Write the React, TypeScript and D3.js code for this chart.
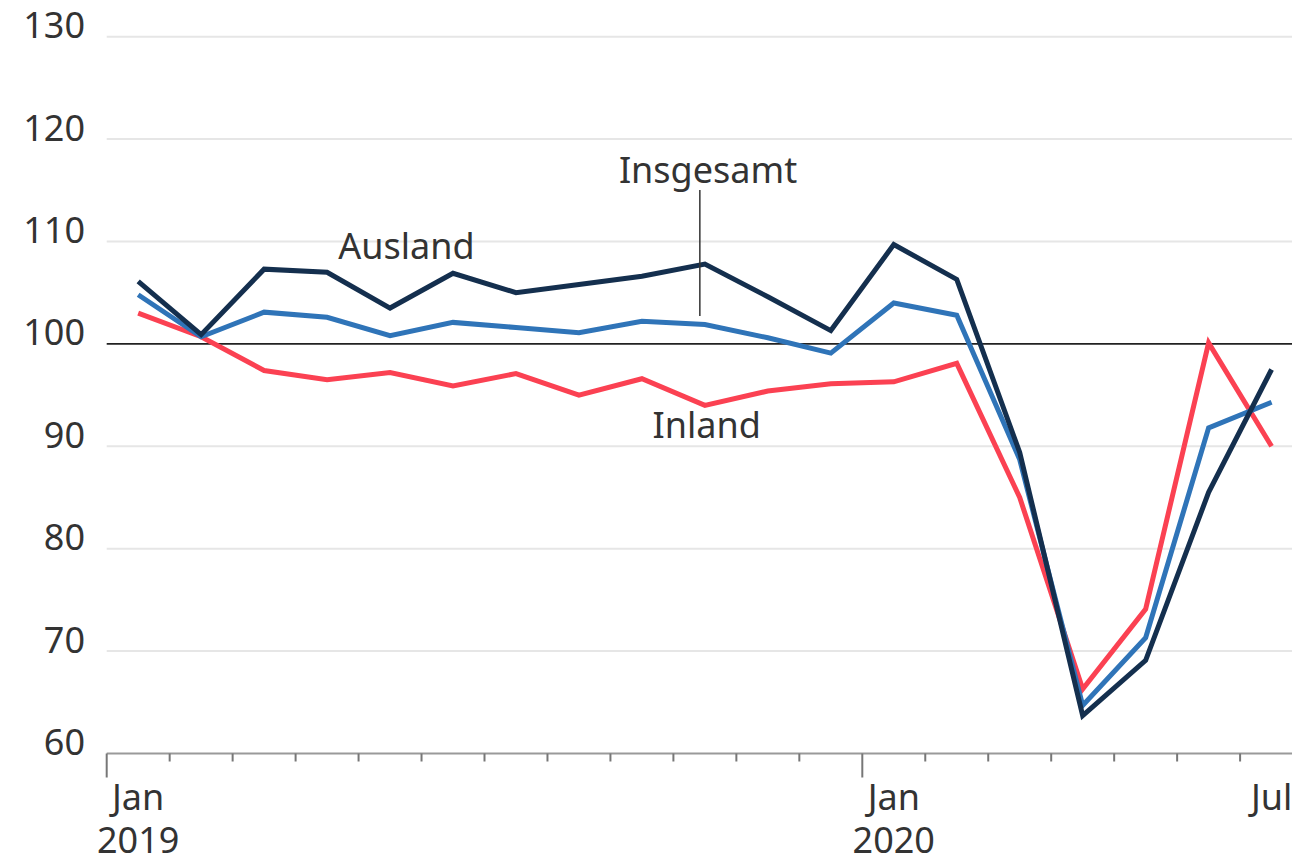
import React from "react";
import * as d3 from "d3";

const months = ["Jan 2019","Feb","Mär","Apr","Mai","Jun","Jul","Aug","Sep","Okt","Nov","Dez","Jan 2020","Feb","Mär","Apr","Mai","Jun","Jul"];
const ausland = [106.1, 100.9, 107.3, 107.0, 103.5, 106.9, 105.0, 105.8, 106.6, 107.8, 104.6, 101.3, 109.7, 106.3, 89.4, 63.7, 69.1, 85.5, 97.5];
const insgesamt = [104.8, 100.7, 103.1, 102.6, 100.8, 102.1, 101.6, 101.1, 102.2, 101.9, 100.6, 99.1, 104.0, 102.8, 88.7, 64.7, 71.3, 91.8, 94.3];
const inland = [103.0, 100.7, 97.4, 96.5, 97.2, 95.9, 97.1, 95.0, 96.6, 94.0, 95.4, 96.1, 96.3, 98.1, 85.0, 66.3, 74.1, 100.1, 90.0];
const yTicks = [60, 70, 80, 90, 100, 110, 120, 130];
const xLabels = [
  { m: 0, l1: "Jan", l2: "2019" },
  { m: 12, l1: "Jan", l2: "2020" },
  { m: 18, l1: "Jul", l2: "" },
];
const seriesLabels = [
  { name: "Ausland", m: 4.76, v: 108.3 },
  { name: "Insgesamt", m: 9.55, v: 115.7 },
  { name: "Inland", m: 9.53, v: 90.8 },
];

const W = 1292;
const H = 864;
const FONT = "'Noto Sans', 'Open Sans', sans-serif";
const TEXT = "#333333";

export default function App() {
  const x = d3.scaleLinear().domain([0, 12]).range([106.7, 862.3]);
  const y = d3.scaleLinear().domain([60, 130]).range([753.5, 36.7]);
  const line = d3
    .line<number>()
    .x((_, i) => x(i + 0.5))
    .y((d) => y(d));

  const series = [
    { data: inland, color: "#fb4152" },
    { data: insgesamt, color: "#2f74b8" },
    { data: ausland, color: "#142f4e" },
  ];
  const monthTicks = d3.range(0, months.length);

  return (
    <svg width={W} height={H} style={{ position: "absolute", left: 0, top: 0, background: "#fff" }}>
      {yTicks.map((t) =>
        t === 60 || t === 100 ? null : (
          <line key={t} x1={x(0)} x2={W} y1={y(t)} y2={y(t)} stroke="#e6e6e6" strokeWidth={2} />
        )
      )}
      {yTicks.map((t) => (
        <text key={"l" + t} x={85} y={y(t) + 1.5} textAnchor="end" fontFamily={FONT} fontSize={36} fill={TEXT}>
          {t}
        </text>
      ))}
      <line x1={x(0)} x2={W} y1={y(60)} y2={y(60)} stroke="#9a9a9a" strokeWidth={2} />
      {monthTicks.map((m) => {
        const major = m % 12 === 0;
        return (
          <line
            key={"t" + m}
            x1={x(m)}
            x2={x(m)}
            y1={y(60)}
            y2={y(60) + (major ? 24 : 8)}
            stroke="#777"
            strokeWidth={2}
          />
        );
      })}
      {xLabels.map((d) => (
        <text key={"x" + d.m} textAnchor="middle" fontFamily={FONT} fontSize={36} fill={TEXT}>
          <tspan x={x(d.m + 0.5)} y={810}>{d.l1}</tspan>
          {d.l2 && (
            <tspan x={x(d.m + 0.5)} y={853}>{d.l2}</tspan>
          )}
        </text>
      ))}
      <line x1={x(0)} x2={W} y1={y(100)} y2={y(100)} stroke="#222" strokeWidth={1.6} />
      {series.map((s, i) => (
        <path key={i} d={line(s.data) || ""} fill="none" stroke={s.color} strokeWidth={5} strokeLinejoin="miter" />
      ))}
      <line x1={x(9.42)} x2={x(9.42)} y1={190} y2={316} stroke="#333" strokeWidth={1.5} />
      {seriesLabels.map((s) => (
        <text key={s.name} x={x(s.m)} y={y(s.v)} textAnchor="middle" fontFamily={FONT} fontSize={36} fill={TEXT}>
          {s.name}
        </text>
      ))}
    </svg>
  );
}
